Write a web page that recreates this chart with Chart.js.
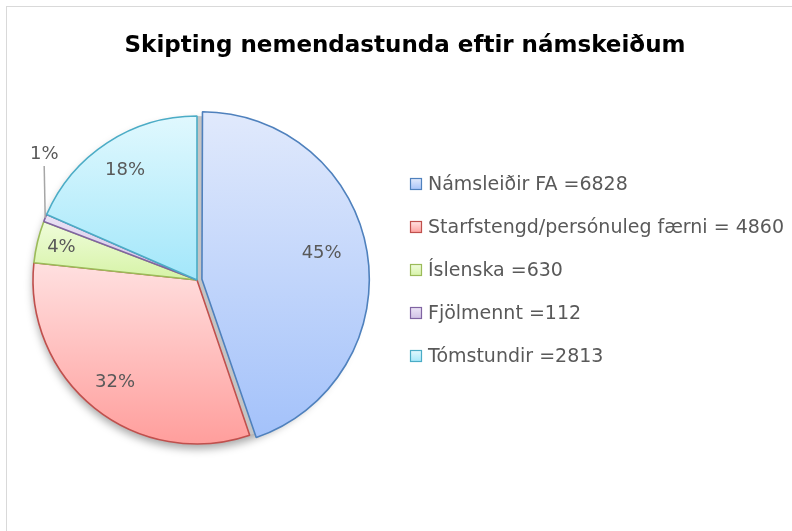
<!DOCTYPE html>
<html>
<head>
<meta charset="utf-8">
<script src="https://cdn.jsdelivr.net/npm/chart.js@4.4.1/dist/chart.umd.min.js"></script>
<style>
  html, body { margin: 0; padding: 0; background: #fff; }
  #wrap { position: relative; width: 792px; height: 531px; overflow: hidden; }
  #frame { position: absolute; left: 6px; top: 6px; width: 900px; height: 700px; border: 1px solid #d9d9d9; }
  #c { position: absolute; left: 0; top: 0; }
</style>
</head>
<body>
<div id="wrap">
  <div id="frame"></div>
  <canvas id="c" width="792" height="531"></canvas>
</div>
<script>
const chartTitle = 'Skipting nemendastunda eftir námskeiðum';
const categories = ['Námsleiðir FA', 'Starfstengd/persónuleg færni', 'Íslenska', 'Fjölmennt', 'Tómstundir'];
const hours = [6828, 4860, 630, 112, 2813];
const legendText = ['Námsleiðir FA =6828', 'Starfstengd/persónuleg færni = 4860', 'Íslenska =630', 'Fjölmennt =112', 'Tómstundir =2813'];

const borderColors = ['#4f81bd', '#c0504d', '#9bbb59', '#8064a2', '#4bacc6'];
const topColors = ['#e0e9fc', '#ffe0e0', '#effcda', '#ebe3f5', '#e0f8fe'];
const bottomColors = ['#a4c2fa', '#ff9e9c', '#d6f3a6', '#cfc0e5', '#a3e7fa'];
// where each percentage sits, as a fraction of the radius (excel "best fit")
const labelRadius = [0.74, 0.8, 0.85, 0, 0.8];

const FONT = '"DejaVu Sans", sans-serif';
const TEXT = '#595959';

// vertical extent of a pie slice, for its gradient
function arcYRange(arc) {
  const { x, y, startAngle, endAngle, outerRadius: r } = arc;
  const ys = [y, y + r * Math.sin(startAngle), y + r * Math.sin(endAngle)];
  [-Math.PI / 2, Math.PI / 2, 1.5 * Math.PI].forEach(a => {
    if (a > startAngle && a < endAngle) ys.push(y + r * Math.sin(a));
  });
  return [Math.min(...ys), Math.max(...ys)];
}

function fillGradient(ctx, y0, y1, i) {
  const g = ctx.createLinearGradient(0, y0, 0, y1);
  g.addColorStop(0, topColors[i]);
  g.addColorStop(1, bottomColors[i]);
  return g;
}

const pieDecor = {
  id: 'pieDecor',
  beforeDatasetsDraw(chart) {
    const { ctx } = chart;
    const arcs = chart.getDatasetMeta(0).data;
    const a0 = arcs[0];
    // soft drop shadow under the whole pie
    ctx.save();
    ctx.shadowColor = 'rgba(0,0,0,0.35)';
    ctx.shadowBlur = 9;
    ctx.shadowOffsetY = 5;
    ctx.fillStyle = '#c4c4c4';
    ctx.beginPath();
    ctx.arc(a0.x, a0.y, a0.outerRadius, 0, Math.PI * 2);
    ctx.fill();
    ctx.restore();
    arcs.forEach((arc, i) => {
      const [y0, y1] = arcYRange(arc);
      arc.options.backgroundColor = fillGradient(ctx, y0, y1, i);
    });
  },
  afterDatasetsDraw(chart) {
    const { ctx } = chart;
    const data = chart.data.datasets[0].data;
    const total = data.reduce((a, b) => a + b, 0);
    const arcs = chart.getDatasetMeta(0).data;
    ctx.save();
    ctx.font = '18px ' + FONT;
    ctx.fillStyle = TEXT;
    ctx.textAlign = 'center';
    ctx.textBaseline = 'middle';
    arcs.forEach((arc, i) => {
      const share = data[i] / total;
      const pct = Math.round(share * 100) + '%';
      const mid = (arc.startAngle + arc.endAngle) / 2;
      const shift = (arc.options.offset || 0) / 4;
      const cx = arc.x + Math.cos(mid) * shift;
      const cy = arc.y + Math.sin(mid) * shift;
      const R = arc.outerRadius;
      if (share < 0.02) {
        const px = cx + Math.cos(mid) * R;
        const py = cy + Math.sin(mid) * R;
        ctx.strokeStyle = '#a6a6a6';
        ctx.lineWidth = 1.5;
        ctx.beginPath();
        ctx.moveTo(px, py);
        ctx.lineTo(px - 1, py - 52);
        ctx.stroke();
        ctx.fillText(pct, px - 1, py - 64);
      } else {
        const r = R * labelRadius[i];
        ctx.fillText(pct, cx + Math.cos(mid) * r, cy + Math.sin(mid) * r - (i === 0 ? 6 : 0));
      }
    });
    ctx.restore();
  },
  afterDraw(chart) {
    const { ctx } = chart;
    ctx.save();
    // title
    ctx.font = 'bold 23px ' + FONT;
    ctx.fillStyle = '#000';
    ctx.textAlign = 'center';
    ctx.textBaseline = 'middle';
    ctx.fillText(chartTitle, 405, 46);
    // legend
    ctx.font = '19px ' + FONT;
    ctx.textAlign = 'left';
    legendText.forEach((t, i) => {
      const y = 184 + i * 43;
      ctx.fillStyle = fillGradient(ctx, y - 5, y + 6, i);
      ctx.fillRect(410.5, y - 5.5, 11, 11);
      ctx.strokeStyle = borderColors[i];
      ctx.lineWidth = 1.2;
      ctx.strokeRect(410.5, y - 5.5, 11, 11);
      ctx.fillStyle = TEXT;
      ctx.fillText(t, 428, y + 1);
    });
    ctx.restore();
  }
};

new Chart(document.getElementById('c'), {
  type: 'pie',
  data: {
    labels: categories,
    datasets: [{
      data: hours,
      backgroundColor: bottomColors.slice(),
      borderColor: borderColors,
      borderWidth: 1.6,
      offset: [20, 0, 0, 0, 0],
    }],
  },
  options: {
    responsive: false,
    animation: false,
    radius: 164,
    layout: { padding: { left: 20, right: 418, top: 100, bottom: 71 } },
    plugins: { legend: { display: false }, tooltip: { enabled: false }, title: { display: false } },
  },
  plugins: [pieDecor],
});
</script>
</body>
</html>
